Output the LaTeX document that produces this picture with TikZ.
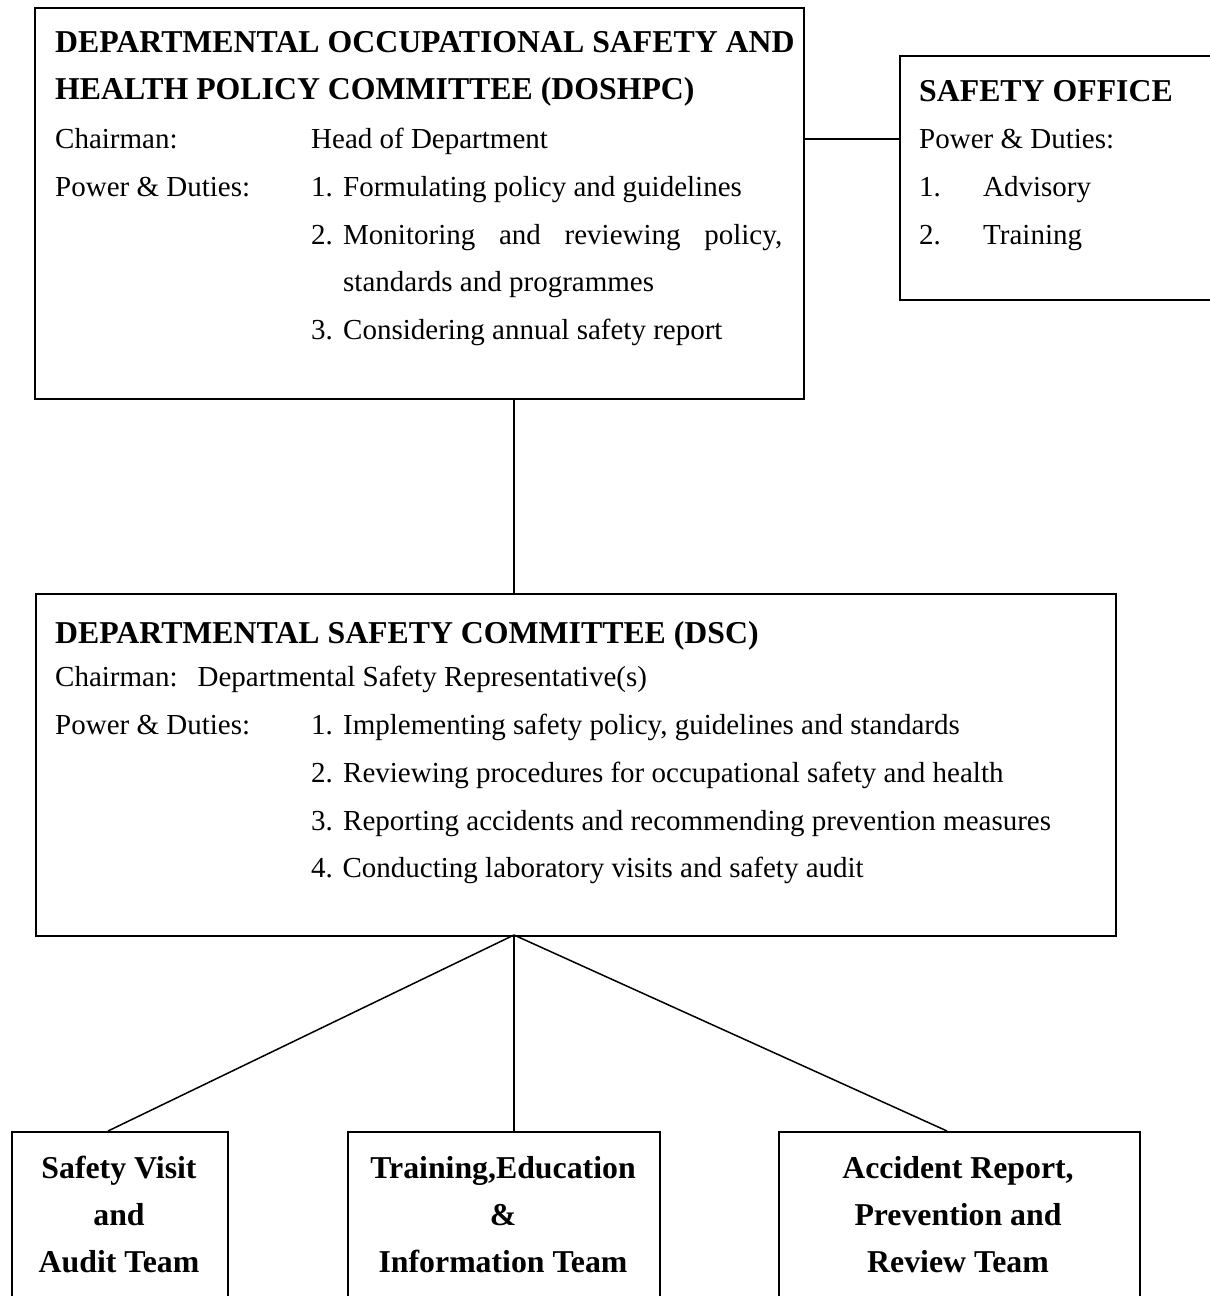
\documentclass[tikz,border=0pt]{standalone}
\usepackage{fontspec}
\setmainfont{Liberation Serif}
\begin{document}
\begin{tikzpicture}[x=1pt,y=-1pt,
  box/.style={draw, line width=2pt, rectangle, inner sep=0pt, anchor=north west},
  link/.style={line width=1.5pt},
  txt/.style={anchor=base west, inner sep=0pt, font=\fontsize{29}{34}\selectfont},
  head/.style={anchor=base west, inner sep=0pt, font=\fontsize{31.8}{36}\selectfont\bfseries},
  team/.style={anchor=base, inner sep=0pt, font=\fontsize{31.8}{36}\selectfont\bfseries}]
\useasboundingbox (0,0) rectangle (1210,1296);

% frames
\node[box, minimum width=769pt, minimum height=391pt] (doshpc) at (34,7) {};
\node[box, minimum width=340pt, minimum height=244pt] (office) at (899,55) {};
\node[box, minimum width=1080pt, minimum height=342pt] (dsc) at (35,593) {};
\node[box, minimum width=216pt, minimum height=200pt] (team1) at (11,1131) {};
\node[box, minimum width=312pt, minimum height=200pt] (team2) at (347,1131) {};
\node[box, minimum width=361pt, minimum height=200pt] (team3) at (778,1131) {};

% policy committee
\node[head] (t1a) at (55,52) {DEPARTMENTAL OCCUPATIONAL SAFETY AND};
\node[head] (t1b) at (55,99) {HEALTH POLICY COMMITTEE (DOSHPC)};
\node[txt] (c1) at (55,148) {Chairman:};
\node[txt] (c1v) at (311,148) {Head of Department};
\node[txt] (d1) at (55,196) {Power \& Duties:};
\node[txt] (d1a) at (311,196) {\makebox[32pt][l]{1.}Formulating policy and guidelines};
\node[txt] (d1b) at (311,244) {\makebox[32pt][l]{2.}\hbox to 439pt{Monitoring\hfill and\hfill reviewing\hfill policy,}};
\node[txt] (d1c) at (343,291) {standards and programmes};
\node[txt] (d1d) at (311,339) {\makebox[32pt][l]{3.}Considering annual safety report};

% safety office
\node[head] (t2) at (919,101) {SAFETY OFFICE};
\node[txt] (d2) at (919,148) {Power \& Duties:};
\node[txt] (d2a) at (919,196) {\makebox[64pt][l]{1.}Advisory};
\node[txt] (d2b) at (919,244) {\makebox[64pt][l]{2.}Training};

% safety committee
\node[head] (t3) at (55,643) {DEPARTMENTAL SAFETY COMMITTEE (DSC)};
\node[txt] (c3) at (55,686) {Chairman:\hspace{20pt}Departmental Safety Representative(s)};
\node[txt] (d3) at (55,734) {Power \& Duties:};
\node[txt] (d3a) at (311,734) {\makebox[32pt][l]{1.}Implementing safety policy, guidelines and standards};
\node[txt] (d3b) at (311,782) {\makebox[32pt][l]{2.}Reviewing procedures for occupational safety and health};
\node[txt] (d3c) at (311,830) {\makebox[32pt][l]{3.}Reporting accidents and recommending prevention measures};
\node[txt] (d3d) at (311,877) {4. Conducting laboratory visits and safety audit};

% teams
\node[team] (a1) at (119,1178) {Safety Visit};
\node[team] (a2) at (119,1225) {and};
\node[team] (a3) at (119,1272) {Audit Team};
\node[team] (b1) at (503,1178) {Training,Education};
\node[team] (b2) at (503,1225) {\&};
\node[team] (b3) at (503,1272) {Information Team};
\node[team] (e1) at (958,1178) {Accident Report,};
\node[team] (e2) at (958,1225) {Prevention and};
\node[team] (e3) at (958,1272) {Review Team};

% connectors
\coordinate (join) at (0,139);
\coordinate (hub) at (514,935);
\coordinate (in1) at (108,1131);
\coordinate (in3) at (947,1131);
\draw[link] (join -| doshpc.east) -- (join -| office.west);
\draw[link] (hub |- doshpc.south) -- (hub |- dsc.north);
\draw[link] (hub) -- (in1);
\draw[link] (hub) -- (hub |- team2.north);
\draw[link] (hub) -- (in3);
\end{tikzpicture}
\end{document}
